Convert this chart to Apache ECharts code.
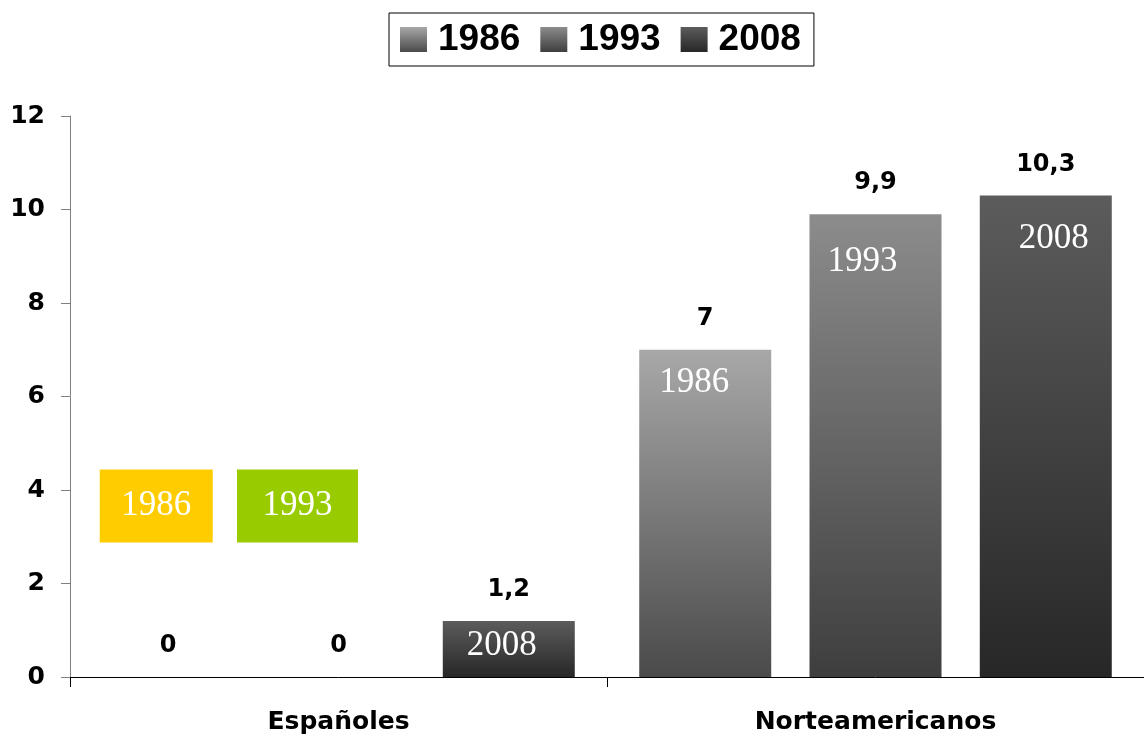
<!DOCTYPE html>
<html>
<head>
<meta charset="utf-8">
<script src="https://cdn.jsdelivr.net/npm/echarts@6/dist/echarts.min.js"></script>
<style>
html,body{margin:0;padding:0;background:#fff;}
#chart_1{width:1144px;height:738px;}
</style>
</head>
<body>
<div id="chart_1"></div>
<script>
// datos
var categorias = ['Españoles', 'Norteamericanos'];
var series_nombres = ['1986', '1993', '2008'];
var v1986 = [0, 7];
var v1993 = [0, 9.9];
var v2008 = [1.2, 10.3];
var ticks_y = [0, 2, 4, 6, 8, 10, 12];

var valores = [v1986, v1993, v2008];
var gradientes = [
    ['#a8a8a8', '#4a4a4a'],
    ['#8c8c8c', '#3e3e3e'],
    ['#5c5c5c', '#272727']
];
// cajas de color para los valores cero (Españoles)
var cajas = {'1986': '#ffcc00', '1993': '#99cc00'};

var fuenteEje = 'DejaVu Sans, Verdana';
var fuenteSerif = 'Liberation Serif, Times New Roman';

function grad(c){
    return new echarts.graphic.LinearGradient(0, 0, 0, 1, [
        {offset: 0, color: c[0]},
        {offset: 1, color: c[1]}
    ]);
}
function coma(v){
    return String(v).replace('.', ',');
}

var barW = 132, barGap = '29%', catGap = '12.3%';
var series = [];
// barras con etiqueta de valor
for (var i = 0; i < series_nombres.length; i++) {
    series.push({
        name: series_nombres[i],
        type: 'bar',
        barWidth: barW,
        barGap: barGap,
        barCategoryGap: catGap,
        itemStyle: {color: grad(gradientes[i])},
        label: {
            show: true,
            position: 'top',
            distance: 19,
            color: '#000',
            fontFamily: fuenteEje,
            fontWeight: 'bold',
            fontSize: 24,
            formatter: function(p){ return coma(p.value); }
        },
        data: valores[i]
    });
}
// etiquetas del año dentro de las barras (serie superpuesta en eje oculto)
for (var j = 0; j < series_nombres.length; j++) {
    var nombre = series_nombres[j];
    var datos = [];
    for (var k = 0; k < valores[j].length; k++) {
        var v = valores[j][k];
        if (v === 0) {
            var ancho = nombre === '1986' ? 113 : 121;
            datos.push({
                value: v,
                label: {
                    show: true,
                    position: 'inside',
                    offset: nombre === '1986' ? [-12, -171] : [-41, -171],
                    backgroundColor: cajas[nombre],
                    width: ancho,
                    height: 73,
                    align: 'center',
                    verticalAlign: 'middle',
                    lineHeight: 73,
                    padding: 0
                }
            });
        } else {
            datos.push({value: v});
        }
    }
    series.push({
        name: nombre + '_lbl',
        type: 'bar',
        xAxisIndex: 1,
        barWidth: barW,
        barGap: barGap,
        barCategoryGap: catGap,
        silent: true,
        itemStyle: {color: 'rgba(0,0,0,0)'},
        label: {
            show: true,
            position: 'insideTop',
            distance: 16,
            offset: [-8, 0],
            color: '#fff',
            fontFamily: fuenteSerif,
            fontSize: 35,
            formatter: nombre
        },
        data: datos
    });
}
// ajuste posiciones de texto según la imagen
series[3].data[1].label = {offset: [-11, 0], distance: 16};
series[4].data[1].label = {offset: [-13, 0], distance: 30};
series[5].data[0].label = {offset: [-7, 0], distance: 7};
series[5].data[1].label = {offset: [8, 0], distance: 26};

var option1 = {
    animation: false,
    legend: {
        data: series_nombres,
        top: 13,
        left: 389,
        padding: [8, 13, 8, 11],
        borderColor: '#000',
        borderWidth: 1,
        itemWidth: 27,
        itemHeight: 25,
        itemGap: 20,
        icon: 'rect',
        textStyle: {
            color: '#000',
            fontFamily: 'Liberation Sans, Arial',
            fontWeight: 'bold',
            fontSize: 37,
            padding: [0, 0, 0, 6]
        }
    },
    grid: {
        left: 70,
        right: -2,
        top: 116,
        bottom: 61
    },
    xAxis: [
        {
            type: 'category',
            data: categorias,
            axisLine: {lineStyle: {color: '#000', width: 1}},
            axisTick: {show: true, length: 10, lineStyle: {color: '#000'}},
            axisLabel: {
                margin: 33,
                color: '#000',
                fontFamily: fuenteEje,
                fontWeight: 'bold',
                fontSize: 25
            }
        },
        {
            type: 'category',
            data: categorias,
            show: false
        }
    ],
    yAxis: {
        type: 'value',
        min: ticks_y[0],
        max: ticks_y[ticks_y.length - 1],
        interval: 2,
        splitLine: {show: false},
        axisLine: {show: true, lineStyle: {color: '#808080'}},
        axisTick: {show: true, length: 9, lineStyle: {color: '#808080'}},
        axisLabel: {
            margin: 25,
            color: '#000',
            fontFamily: fuenteEje,
            fontWeight: 'bold',
            fontSize: 25
        }
    },
    series: series
};
var myChart1 = echarts.init(document.getElementById('chart_1'));
myChart1.setOption(option1);
</script>
</body>
</html>
